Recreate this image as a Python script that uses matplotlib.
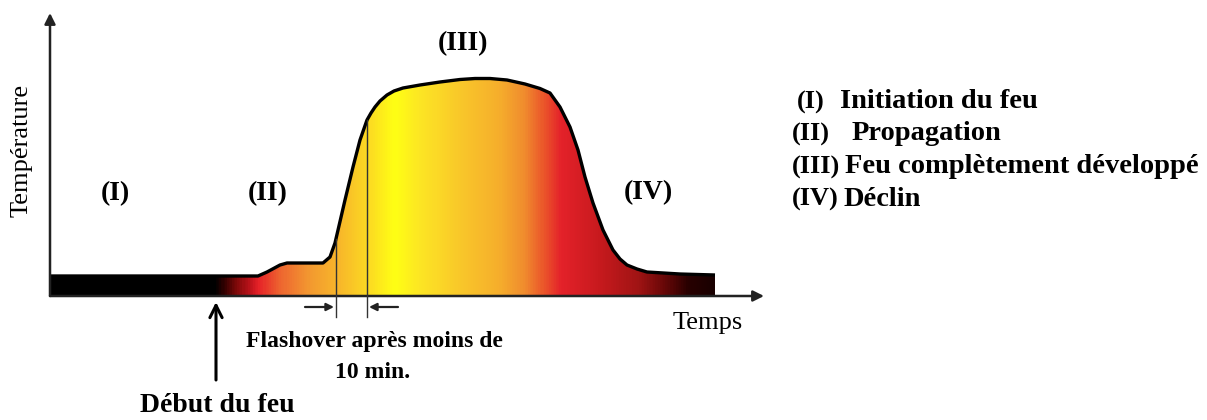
import numpy as np
import matplotlib
matplotlib.use("Agg")
import matplotlib.pyplot as plt
from matplotlib.colors import LinearSegmentedColormap

# ---------------- data ----------------
time = [0, 208, 217, 230, 237, 273, 280, 285, 295, 303, 310, 317, 321, 325,
        330, 337, 344, 353, 370, 390, 410, 425, 440, 457, 475, 490, 500, 510,
        520, 528, 535, 543, 553, 563, 570, 577, 587, 597, 630, 665]
temperature = [20, 20, 24, 31, 33, 33, 39, 53, 96, 129, 156, 176, 183, 189,
               195, 201, 205, 208, 211, 214, 216.5, 217.5, 217.5, 216, 212,
               207.5, 203, 189, 169, 146, 119, 93, 66, 46, 37, 31, 27, 24, 22,
               21]

fire_start = 166
flashover_start = 286
flashover_end = 317

phase_labels = ["(I)", "(II)", "(III)", "(IV)"]
phase_names = ["Initiation du feu", "Propagation",
               "Feu complètement développé", "Déclin"]

grad_time = [0, 165, 172, 185, 200, 208, 230, 260, 290, 320, 345, 370, 410,
             450, 475, 498, 512, 550, 590, 615, 640, 665]
grad_colors = ["#000000", "#000000", "#2a0000", "#7a0808", "#c0141c",
               "#e62228", "#ee6630", "#f39a30", "#f8b82a", "#fcdc22",
               "#ffff14", "#fde624", "#f9c82a", "#f6ae2c", "#f08c2e",
               "#ea4c2a", "#e4222a", "#c81a1e", "#a01414", "#6a0808",
               "#280000", "#1a0000"]

# ---------------- figure ----------------
W, H = 1207, 420
fig = plt.figure(figsize=(W / 100, H / 100), dpi=100)
fig.patch.set_facecolor("white")

x0, y_axis, x1, y_top = 50, 296, 764, 13
ax = fig.add_axes([x0 / W, (H - y_axis) / H, (x1 - x0) / W, (y_axis - y_top) / H])
ax.set_xlim(0, x1 - x0)
ax.set_ylim(0, y_axis - y_top)
ax.axis("off")

t = np.array(time, float)
T = np.array(temperature, float)

# gradient fill clipped by the curve
tmax = t[-1]
cmap = LinearSegmentedColormap.from_list(
    "fire", list(zip(np.array(grad_time) / tmax, grad_colors)))
grad = np.linspace(0, 1, 800)[None, :]
poly = ax.fill(np.r_[t, t[-1], t[0]], np.r_[T, 0, 0],
               facecolor="none", edgecolor="none")[0]
im = ax.imshow(grad, cmap=cmap, extent=[0, tmax, 0, T.max() + 5],
               aspect="auto", interpolation="bilinear", zorder=1)
im.set_clip_path(poly)
ax.plot(t, T, color="black", lw=2.4, zorder=3, solid_capstyle="butt",
        solid_joinstyle="round")

# axes arrows
ax.annotate("", xy=(0, 1), xytext=(0, 0), xycoords="axes fraction",
            arrowprops=dict(arrowstyle="-|>", color="#222222", lw=1.8,
                            mutation_scale=16, shrinkA=0, shrinkB=0))
ax.annotate("", xy=(1, 0), xytext=(0, 0), xycoords="axes fraction",
            arrowprops=dict(arrowstyle="-|>", color="#222222", lw=1.8,
                            mutation_scale=16, shrinkA=0, shrinkB=0))

# flashover markers
for ft in (flashover_start, flashover_end):
    ax.plot([ft, ft], [np.interp(ft, t, T), -21], color="#333333", lw=1.0,
            zorder=4, clip_on=False)
ax.annotate("", xy=(flashover_start - 2, -11), xytext=(flashover_start - 31, -11),
            arrowprops=dict(arrowstyle="-|>", color="#222222", lw=1.6,
                            mutation_scale=11, shrinkA=0, shrinkB=0),
            annotation_clip=False)
ax.annotate("", xy=(flashover_end + 2, -11), xytext=(flashover_end + 31, -11),
            arrowprops=dict(arrowstyle="-|>", color="#222222", lw=1.6,
                            mutation_scale=11, shrinkA=0, shrinkB=0),
            annotation_clip=False)

# fire start arrow
ax.annotate("", xy=(fire_start, -6), xytext=(fire_start, -84),
            arrowprops=dict(arrowstyle="->", color="black", lw=2.2,
                            mutation_scale=22, shrinkA=0, shrinkB=0),
            annotation_clip=False)

# ---------------- texts ----------------
serif = "Liberation Serif"


def ftext(x, y, s, **kw):
    fig.text(x / W, 1 - y / H, s, family=serif, ha=kw.pop("ha", "center"),
             va=kw.pop("va", "center"), **kw)


ftext(22, 150, "Température", fontsize=19, rotation=90)
ftext(708, 323, "Temps", fontsize=19)
ftext(115, 194, phase_labels[0], fontsize=20, weight="bold")
ftext(268, 194, phase_labels[1], fontsize=20, weight="bold")
ftext(463, 44, phase_labels[2], fontsize=20, weight="bold")
ftext(648, 193, phase_labels[3], fontsize=20, weight="bold")
ftext(374, 341, "Flashover après moins de", fontsize=17, weight="bold")
ftext(373, 372, "10 min.", fontsize=17, weight="bold")
ftext(217, 406, "Début du feu", fontsize=20, weight="bold")

leg_y = [102, 134, 167, 199]
leg_lab_x = [797, 792, 792, 792]
leg_name_x = [840, 852, 845, 844]
for y, lx, nx, lab, name in zip(leg_y, leg_lab_x, leg_name_x, phase_labels, phase_names):
    ftext(lx, y, lab, fontsize=19, weight="bold", ha="left")
    ftext(nx, y, name, fontsize=20.5, weight="bold", ha="left")

fig.savefig("out.png", dpi=100, facecolor="white")
